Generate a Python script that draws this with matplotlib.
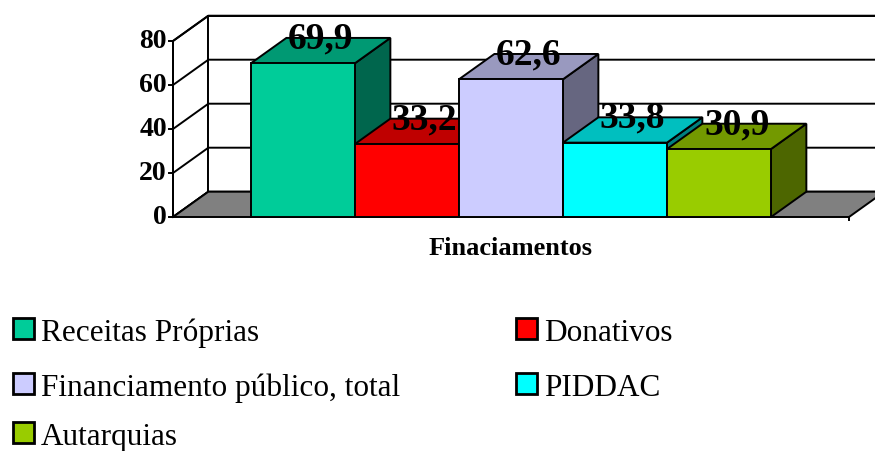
import matplotlib
matplotlib.use("Agg")
import matplotlib.pyplot as plt
import matplotlib.colors as mcolors
from matplotlib.patches import Polygon, Rectangle

# ----------------------------
# Data
# ----------------------------
categories = ["Receitas Próprias", "Donativos", "Financiamento público, total", "PIDDAC", "Autarquias"]
values = [69.9, 33.2, 62.6, 33.8, 30.9]
value_labels = ["69,9", "33,2", "62,6", "33,8", "30,9"]
colors = ["#00CC99", "#FF0000", "#CCCCFF", "#00FFFF", "#99CC00"]
yticks = [0, 20, 40, 60, 80]
xlabel = "Finaciamentos"

# ----------------------------
# Layout (pseudo 3D)
# ----------------------------
W, H = 875, 452
X0_PX, PX_PER_X = 251, 104      # bar 0 starts at pixel 251, each bar 104 px
Y0_PX, PX_PER_Y = 218, 2.2      # value 0 at pixel row 218
DX, DY = 0.34, 11.5             # depth offset
LEFT, RIGHT, YMAX = -0.75, 5.75, 80
LW = 1.4
SERIF = "Liberation Serif"


def shade(color, f):
    r, g, b = mcolors.to_rgb(color)
    return (r * f, g * f, b * f)


def fig_xy(px, py):
    return px / W, 1 - py / H


fig = plt.figure(figsize=(W / 100, H / 100), dpi=100)
ax = fig.add_axes([0, 0, 1, 1])
ax.set_xlim(-X0_PX / PX_PER_X, (W - X0_PX) / PX_PER_X)
ax.set_ylim((Y0_PX - H) / PX_PER_Y, Y0_PX / PX_PER_Y)
ax.axis("off")

# walls
ax.add_patch(Polygon([(LEFT, 0), (LEFT + DX, DY), (LEFT + DX, YMAX + DY), (LEFT, YMAX)],
                     facecolor="white", edgecolor="black", lw=LW, zorder=1))
ax.add_patch(Polygon([(LEFT + DX, DY), (RIGHT + DX, DY), (RIGHT + DX, YMAX + DY), (LEFT + DX, YMAX + DY)],
                     facecolor="white", edgecolor="black", lw=LW, zorder=1))

# gridlines (side wall diagonal + back wall)
for v in yticks:
    ax.plot([LEFT, LEFT + DX, RIGHT + DX], [v, v + DY, v + DY], color="black", lw=LW, zorder=2)

# floor
ax.add_patch(Polygon([(LEFT, 0), (RIGHT, 0), (RIGHT + DX, DY), (LEFT + DX, DY)],
                     facecolor="#808080", edgecolor="black", lw=LW, zorder=3))
ax.plot([RIGHT, RIGHT], [0, -1.5], color="black", lw=LW, zorder=3)

# front value axis
ax.plot([LEFT, LEFT], [0, YMAX], color="black", lw=LW, zorder=4)
for v in yticks:
    ax.plot([LEFT - 0.035, LEFT], [v, v], color="black", lw=LW, zorder=4)
    ax.text(LEFT - 0.06, v, str(v), ha="right", va="center", fontsize=20,
            fontweight="bold", family=SERIF, zorder=4)

# bars, left to right so the next one hides the previous side
for i, (v, c) in enumerate(zip(values, colors)):
    z = 5 + i
    x0, x1 = i, i + 1
    side = [(x1, 0), (x1 + DX, DY), (x1 + DX, v + DY), (x1, v)]
    top = [(x0, v), (x1, v), (x1 + DX, v + DY), (x0 + DX, v + DY)]
    ax.add_patch(Polygon(side, facecolor=shade(c, 0.5), edgecolor="black", lw=LW, zorder=z))
    ax.add_patch(Polygon(top, facecolor=shade(c, 0.75), edgecolor="black", lw=LW, zorder=z))
    ax.add_patch(Rectangle((x0, 0), 1, v, facecolor=c, edgecolor="black", lw=LW, zorder=z))

for i, (v, lab) in enumerate(zip(values, value_labels)):
    ax.text(i + 0.5 + DX / 2, v + DY, lab, ha="center", va="center", fontsize=27,
            fontweight="bold", family=SERIF, zorder=20)

ax.text(len(values) / 2, -16.8, xlabel, ha="center", va="baseline", fontsize=19,
        fontweight="bold", family=SERIF, zorder=20)

# legend (two columns, row-major like the original)
col_px = [13, 516]
row_px = [319, 374, 423]
sq = 21
for k, (name, c) in enumerate(zip(categories, colors)):
    cx = col_px[k % 2]
    ry = row_px[k // 2]
    fx, fy = fig_xy(cx, ry + sq)
    fig.patches.append(Rectangle((fx, fy), sq / W, sq / H, transform=fig.transFigure,
                                 facecolor=c, edgecolor="black", lw=2, figure=fig))
    tx, ty = fig_xy(cx + 28, ry + sq + 1)
    fig.text(tx, ty, name, ha="left", va="baseline", fontsize=22.5, family=SERIF)

fig.savefig("out.png", dpi=100)
